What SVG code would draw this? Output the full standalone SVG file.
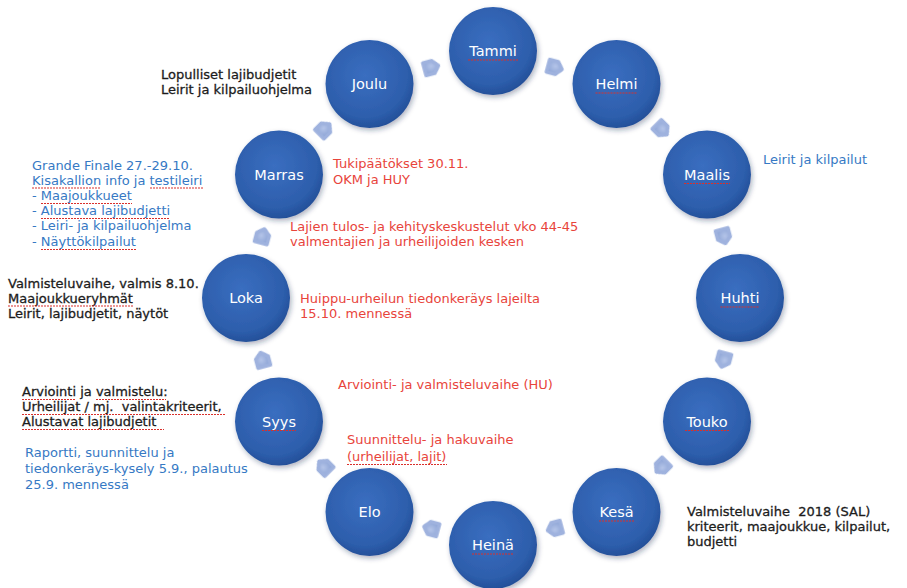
<svg xmlns="http://www.w3.org/2000/svg" width="907" height="588" viewBox="0 0 907 588">
<defs>
  <radialGradient id="cg" cx="45%" cy="40%" r="60%">
    <stop offset="0" stop-color="#3a6ec0"/>
    <stop offset="0.8" stop-color="#2d5eac"/>
    <stop offset="1" stop-color="#24509a"/>
  </radialGradient>
  <radialGradient id="ag" cx="50%" cy="40%" r="60%">
    <stop offset="0" stop-color="#b4c4e8"/>
    <stop offset="1" stop-color="#8ea5d6"/>
  </radialGradient>
  <filter id="sh" x="-30%" y="-30%" width="160%" height="160%">
    <feDropShadow dx="1.5" dy="2.5" stdDeviation="2.5" flood-color="#1a2a50" flood-opacity="0.35"/>
  </filter>
  <filter id="soft" x="-30%" y="-30%" width="160%" height="160%">
    <feGaussianBlur stdDeviation="0.6"/>
  </filter>
  <polygon id="arr" points="-7,-6.5 2,-6.5 7.5,0 2,6.5 -7,6.5"/>
</defs>
<style>
  .node circle { fill: url(#cg); filter: url(#sh); }
  .lbl { font-family: "DejaVu Sans", Verdana, sans-serif; font-size: 14.5px; fill: #ffffff; text-anchor: middle; }
  .t { font-family: "DejaVu Sans", Verdana, sans-serif; font-size: 13px; white-space: pre; }
  .blk { fill: #1c1c1c; stroke: #1c1c1c; stroke-width: 0.3; }
  .blu { fill: #3679c4; }
  .red { fill: #e8443b; }
  .sq { stroke: #d9302c; stroke-width: 1.2; stroke-dasharray: 2 1; fill: none; }
  .conn use { fill: url(#ag); stroke: #9fb2de; stroke-width: 3.5; stroke-linejoin: round; filter: url(#soft); }
</style>
<rect width="907" height="588" fill="#ffffff"/>

<g id="connectors" class="conn">
  <use href="#arr" transform="translate(554.8,67.5) rotate(15)"/>
  <use href="#arr" transform="translate(661.7,129.3) rotate(45)"/>
  <use href="#arr" transform="translate(723.5,236.2) rotate(75)"/>
  <use href="#arr" transform="translate(723.5,359.8) rotate(105)"/>
  <use href="#arr" transform="translate(661.7,466.7) rotate(135)"/>
  <use href="#arr" transform="translate(554.8,528.5) rotate(165)"/>
  <use href="#arr" transform="translate(431.2,528.5) rotate(195)"/>
  <use href="#arr" transform="translate(324.3,466.7) rotate(225)"/>
  <use href="#arr" transform="translate(262.5,359.8) rotate(255)"/>
  <use href="#arr" transform="translate(262.5,236.2) rotate(285)"/>
  <use href="#arr" transform="translate(324.3,129.3) rotate(315)"/>
  <use href="#arr" transform="translate(431.2,67.5) rotate(345)"/>
</g>

<g id="tammi" class="node"><circle cx="493" cy="51" r="44"/><text class="lbl" x="493" y="56">Tammi</text><line class="sq" x1="468" y1="60" x2="518" y2="60"/></g>
<g id="helmi" class="node"><circle cx="616.5" cy="84" r="44"/><text class="lbl" x="616.5" y="89">Helmi</text><line class="sq" x1="595.5" y1="93" x2="637.5" y2="93"/></g>
<g id="maalis" class="node"><circle cx="707" cy="174.5" r="44"/><text class="lbl" x="707" y="179.5">Maalis</text><line class="sq" x1="684" y1="183.5" x2="730" y2="183.5"/></g>
<g id="huhti" class="node"><circle cx="740" cy="298" r="44"/><text class="lbl" x="740" y="303">Huhti</text><line class="sq" x1="720.5" y1="307" x2="759.5" y2="307"/></g>
<g id="touko" class="node"><circle cx="707" cy="421.5" r="44"/><text class="lbl" x="707" y="426.5">Touko</text><line class="sq" x1="685" y1="430.5" x2="729" y2="430.5"/></g>
<g id="kesa" class="node"><circle cx="616.5" cy="512" r="44"/><text class="lbl" x="616.5" y="517">Kesä</text><line class="sq" x1="599" y1="521" x2="634" y2="521"/></g>
<g id="heina" class="node"><circle cx="493" cy="545" r="44"/><text class="lbl" x="493" y="550">Heinä</text><line class="sq" x1="472" y1="554" x2="514" y2="554"/></g>
<g id="elo" class="node"><circle cx="369.5" cy="512" r="44"/><text class="lbl" x="369.5" y="517">Elo</text></g>
<g id="syys" class="node"><circle cx="279" cy="421.5" r="44"/><text class="lbl" x="279" y="426.5">Syys</text><line class="sq" x1="262" y1="430.5" x2="296" y2="430.5"/></g>
<g id="loka" class="node"><circle cx="246" cy="298" r="44"/><text class="lbl" x="246" y="303">Loka</text></g>
<g id="marras" class="node"><circle cx="279" cy="174.5" r="44"/><text class="lbl" x="279" y="179.5">Marras</text></g>
<g id="joulu" class="node"><circle cx="369.5" cy="84" r="44"/><text class="lbl" x="369.5" y="89">Joulu</text></g>

<g id="notes-joulu">
  <text class="t blk" x="161" y="79">Lopulliset lajibudjetit</text>
  <text class="t blk" x="161" y="94">Leirit ja kilpailuohjelma</text>
</g>

<g id="notes-marras-left">
  <text class="t blu" x="32" y="169.5">Grande Finale 27.-29.10.</text>
  <text class="t blu" x="32" y="184.5">Kisakallion info ja testileiri</text>
  <text class="t blu" x="32" y="200">- Maajoukkueet</text>
  <text class="t blu" x="32" y="215">- Alustava lajibudjetti</text>
  <text class="t blu" x="32" y="230">- Leiri- ja kilpailuohjelma</text>
  <text class="t blu" x="32" y="246">- Näyttökilpailut</text>
  <line class="sq" x1="32" y1="188" x2="101" y2="188"/>
  <line class="sq" x1="150" y1="188" x2="203" y2="188"/>
  <line class="sq" x1="41" y1="203.5" x2="132" y2="203.5"/>
  <line class="sq" x1="41" y1="218.5" x2="170" y2="218.5"/>
  <line class="sq" x1="41" y1="249.5" x2="136" y2="249.5"/>
</g>

<g id="notes-loka-left">
  <text class="t blk" x="8" y="287.5">Valmisteluvaihe, valmis 8.10.</text>
  <text class="t blk" x="8" y="302.5">Maajoukkueryhmät</text>
  <text class="t blk" x="8" y="317.5">Leirit, lajibudjetit, näytöt</text>
  <line class="sq" x1="8" y1="306" x2="133" y2="306"/>
</g>

<g id="notes-syys-left">
  <text class="t blk" x="22" y="396">Arviointi ja valmistelu:</text>
  <text class="t blk" x="22" y="411">Urheilijat / mj.  valintakriteerit,</text>
  <text class="t blk" x="22" y="426">Alustavat lajibudjetit</text>
  <line class="sq" x1="22" y1="399.5" x2="76" y2="399.5"/>
  <line class="sq" x1="96" y1="399.5" x2="166" y2="399.5"/>
  <line class="sq" x1="22" y1="414.5" x2="226" y2="414.5"/>
  <line class="sq" x1="22" y1="429.5" x2="164" y2="429.5"/>
</g>

<g id="notes-elo-left">
  <text class="t blu" x="25" y="457">Raportti, suunnittelu ja</text>
  <text class="t blu" x="25" y="473">tiedonkeräys-kysely 5.9., palautus</text>
  <text class="t blu" x="25" y="489">25.9. mennessä</text>
</g>

<g id="notes-center">
  <text class="t red" x="333" y="168">Tukipäätökset 30.11.</text>
  <text class="t red" x="333" y="184">OKM ja HUY</text>
  <text class="t red" x="290" y="231">Lajien tulos- ja kehityskeskustelut vko 44-45</text>
  <text class="t red" x="290" y="246">valmentajien ja urheilijoiden kesken</text>
  <text class="t red" x="300" y="303">Huippu-urheilun tiedonkeräys lajeilta</text>
  <text class="t red" x="300" y="318">15.10. mennessä</text>
  <text class="t red" x="338" y="389">Arviointi- ja valmisteluvaihe (HU)</text>
  <text class="t red" x="347" y="444">Suunnittelu- ja hakuvaihe</text>
  <text class="t red" x="347" y="461">(urheilijat, lajit)</text>
  <line class="sq" x1="347" y1="464.5" x2="447" y2="464.5"/>
</g>

<g id="notes-right">
  <text class="t blu" x="763" y="164">Leirit ja kilpailut</text>
  <text class="t blk" x="687" y="516">Valmisteluvaihe  2018 (SAL)</text>
  <text class="t blk" x="687" y="531">kriteerit, maajoukkue, kilpailut,</text>
  <text class="t blk" x="687" y="546">budjetti</text>
</g>
</svg>
